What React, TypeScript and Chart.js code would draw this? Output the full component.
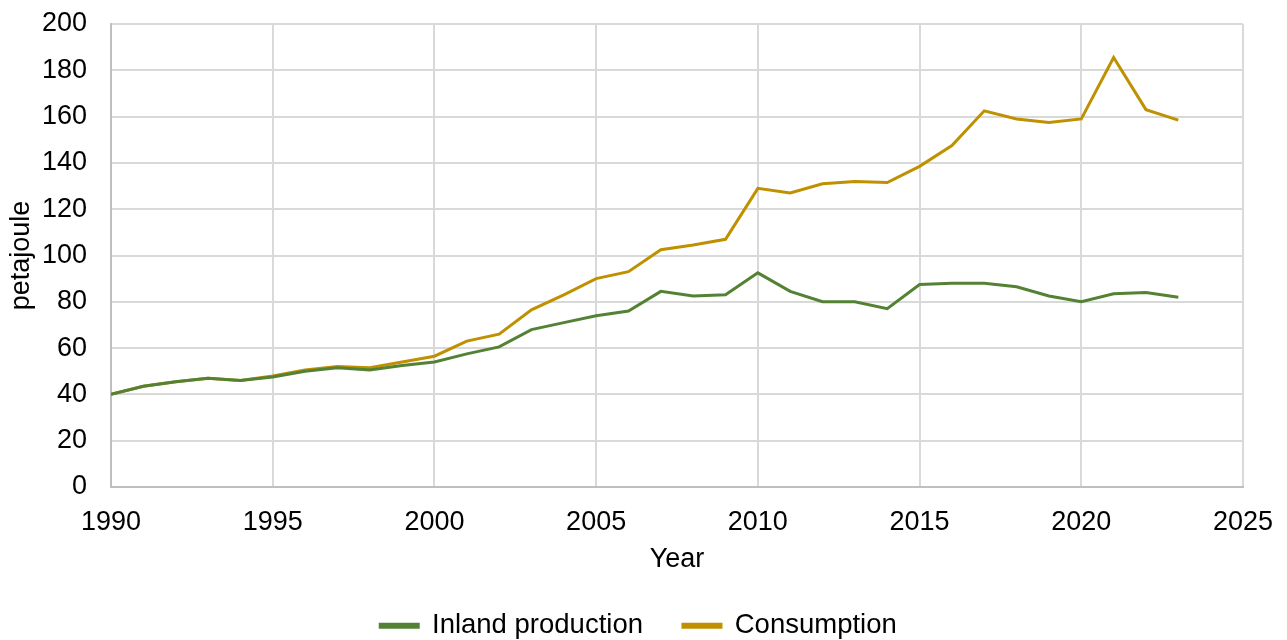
import React, { useEffect, useRef } from "react";
import { Chart, registerables } from "chart.js";

Chart.register(...registerables);

const years = [1990,1991,1992,1993,1994,1995,1996,1997,1998,1999,2000,2001,2002,2003,2004,2005,2006,2007,2008,2009,2010,2011,2012,2013,2014,2015,2016,2017,2018,2019,2020,2021,2022,2023];
const inlandProduction = [40,43.5,45.5,47,46,47.5,50,51.5,50.5,52.5,54,57.5,60.5,68,71,74,76,84.5,82.5,83,92.5,84.5,80,80,77,87.5,88,88,86.5,82.5,80,83.5,84,82];
const consumption = [40,43.5,45.5,47,46,48,50.5,52,51.5,54,56.5,63,66,76.5,83,90,93,102.5,104.5,107,129,127,131,132,131.5,138.5,147.5,162.5,159,157.5,159,185.5,163,158.5];
const seriesNames = ["Inland production", "Consumption"];
const xTitle = "Year";
const yTitle = "petajoule";

export default function App() {
  const ref = useRef<HTMLCanvasElement>(null);
  useEffect(() => {
    if (!ref.current) return;
    const font = "'Liberation Sans', Arial, sans-serif";
    const chart = new Chart(ref.current, {
      type: "line",
      data: {
        datasets: [
          {
            label: seriesNames[0],
            data: years.map((y, i) => ({ x: y, y: inlandProduction[i] })),
            borderColor: "#548235",
            backgroundColor: "#548235",
            borderWidth: 3,
            pointRadius: 0,
            tension: 0,
          },
          {
            label: seriesNames[1],
            data: years.map((y, i) => ({ x: y, y: consumption[i] })),
            borderColor: "#bf9000",
            backgroundColor: "#bf9000",
            borderWidth: 3,
            pointRadius: 0,
            tension: 0,
          },
        ],
      },
      options: {
        animation: false,
        responsive: true,
        maintainAspectRatio: false,
        layout: { padding: { left: 0, right: 10, top: 24, bottom: -9.5 } },
        plugins: {
          tooltip: { enabled: false },
          legend: {
            position: "bottom",
            labels: {
              font: { family: font, size: 27.5 },
              color: "#000",
              boxWidth: 38,
              boxHeight: 3,
              padding: 40,
            },
          },
        },
        scales: {
          x: {
            type: "linear",
            min: 1990,
            max: 2025,
            afterFit: (s: any) => {
              s.height = 85;
              s.paddingLeft = 0;
              s.paddingRight = 44;
            },
            ticks: {
              stepSize: 5,
              callback: (v: any) => String(v),
              font: { family: font, size: 27 },
              color: "#000",
              maxRotation: 0,
              padding: 19,
            },
            grid: { color: "#d9d9d9", lineWidth: 2, drawTicks: false },
            border: { color: "#bfbfbf", width: 2 },
            title: {
              display: true,
              text: xTitle,
              font: { family: font, size: 27 },
              color: "#000",
              padding: { top: 0, bottom: -4 },
            },
          },
          y: {
            min: 0,
            max: 200,
            afterFit: (s: any) => {
              s.width = 111;
              s.paddingTop = 0;
              s.paddingBottom = 0;
            },
            ticks: {
              stepSize: 20,
              font: { family: font, size: 27 },
              color: "#000",
              padding: 24,
            },
            grid: { color: "#d9d9d9", lineWidth: 2, drawTicks: false },
            border: { color: "#bfbfbf", width: 2 },
            title: {
              display: true,
              text: yTitle,
              font: { family: font, size: 27 },
              color: "#000",
              padding: { top: 5, bottom: 6 },
            },
          },
        },
      },
    });
    return () => chart.destroy();
  }, []);
  return (
    <div style={{ position: "absolute", left: 0, top: 0, width: 1287, height: 640 }}>
      <canvas ref={ref} />
    </div>
  );
}
